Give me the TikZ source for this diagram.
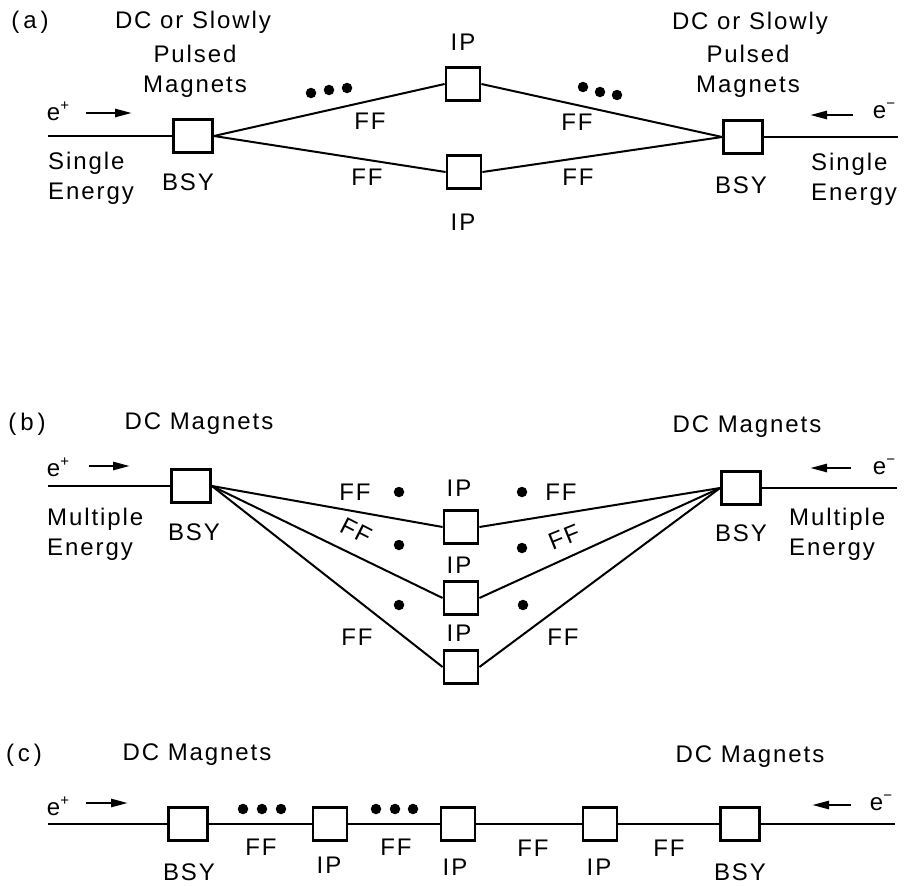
\documentclass[tikz,border=0pt]{standalone}
\usepackage{fontspec}
\setmainfont{Liberation Sans}[LetterSpace=8]
\usetikzlibrary{arrows.meta}
\tikzset{
  bsybox/.style={draw, line width=2.8pt, minimum width=39pt, minimum height=33pt, inner sep=0pt},
  ipbox/.style={draw, line width=2.8pt, minimum width=34pt, minimum height=33pt, inner sep=0pt},
  lbl/.style={font=\fontsize{24}{30}\selectfont, inner sep=0pt},
  beam/.style={line width=2pt},
  dirarrow/.style={line width=2.6pt, -{Triangle[length=17pt,width=8pt]}},
  blob/.style={circle, fill, minimum size=10.5pt, inner sep=0pt},
}
\newcommand{\epos}{e\raisebox{0.42em}{\fontsize{15}{15}\selectfont +}}
\newcommand{\eneg}{e\raisebox{0.42em}{\fontsize{15}{15}\selectfont \textminus}}
\begin{document}
\begin{tikzpicture}[x=1pt,y=-1pt]
\useasboundingbox (0,0) rectangle (905,886);
% ================= (a) =================
\node[lbl] (pa) at (30,22) {(\,a\,)};
\node[lbl] (dcA1) at (193,22) {DC or Slowly};
\node[lbl, align=center] (puA1) at (195,71) {Pulsed\\Magnets};
\node[lbl] (dcA2) at (750,23) {DC or Slowly};
\node[lbl, align=center] (puA2) at (748,71) {Pulsed\\Magnets};
\node[lbl] (epA) at (58,111) {\epos};
\coordinate (arA1s) at (86,113);
\coordinate (arA1e) at (132,113);
\draw[dirarrow] (arA1s) -- (arA1e);
\node[lbl] (emA) at (884,111) {\eneg};
\coordinate (arA2s) at (853,115);
\coordinate (arA2e) at (810,115);
\draw[dirarrow] (arA2s) -- (arA2e);
\coordinate (inA1) at (48,136);
\coordinate (inA2) at (898,137);
\node[bsybox] (bsyA1) at (193,136) {};
\node[bsybox] (bsyA2) at (743,137) {};
\node[ipbox] (ipA1) at (463,84) {};
\node[ipbox] (ipA2) at (464,172) {};
\draw[beam] (inA1) -- (bsyA1.west);
\draw[beam] (inA2) -- (bsyA2.east);
\draw[beam] (bsyA1.east) -- (ipA1.west);
\draw[beam] (bsyA1.east) -- (ipA2.west);
\draw[beam] (ipA1.east) -- (bsyA2.west);
\draw[beam] (ipA2.east) -- (bsyA2.west);
\node[lbl] (iplA1) at (463,42) {IP};
\node[lbl] (iplA2) at (463,222) {IP};
\node[lbl] (ffA1) at (370,121) {FF};
\node[lbl] (ffA2) at (367,177) {FF};
\node[lbl] (ffA3) at (577,122) {FF};
\node[lbl] (ffA4) at (578,177) {FF};
\node[blob] (dA1) at (311,93) {};
\node[blob] (dA2) at (329,90) {};
\node[blob] (dA3) at (347,88) {};
\node[blob] (dA4) at (583,87) {};
\node[blob] (dA5) at (600,92) {};
\node[blob] (dA6) at (617,95) {};
\node[lbl] (bslA1) at (188,182) {BSY};
\node[lbl] (bslA2) at (741,185) {BSY};
\node[lbl, align=left, anchor=west] (seA1) at (48,178) {Single\\Energy};
\node[lbl, align=left, anchor=west] (seA2) at (811,179) {Single\\Energy};
% ================= (b) =================
\node[lbl] (pb) at (27,424) {(\,b\,)};
\node[lbl] (dcB1) at (199,424) {DC Magnets};
\node[lbl] (dcB2) at (747,427) {DC Magnets};
\node[lbl] (epB) at (58,467) {\epos};
\coordinate (arB1s) at (89,466);
\coordinate (arB1e) at (130,466);
\draw[dirarrow] (arB1s) -- (arB1e);
\node[lbl] (emB) at (884,467) {\eneg};
\coordinate (arB2s) at (851,468);
\coordinate (arB2e) at (810,468);
\draw[dirarrow] (arB2s) -- (arB2e);
\coordinate (inB1) at (48,486);
\coordinate (inB2) at (897,488);
\node[bsybox] (bsyB1) at (191,486) {};
\node[bsybox] (bsyB2) at (741,488) {};
\node[ipbox] (ipB1) at (461,527) {};
\node[ipbox] (ipB2) at (461,598) {};
\node[ipbox] (ipB3) at (461,667) {};
\draw[beam] (inB1) -- (bsyB1.west);
\draw[beam] (inB2) -- (bsyB2.east);
\foreach \k in {1,2,3}{
  \draw[beam] (bsyB1.east) -- (ipB\k.west);
  \draw[beam] (ipB\k.east) -- (bsyB2.west);
}
\node[lbl] (iplB1) at (459,488) {IP};
\node[lbl] (iplB2) at (459,565) {IP};
\node[lbl] (iplB3) at (459,633) {IP};
\node[lbl] (ffB1) at (355,492) {FF};
\node[lbl] (ffB2) at (561,492) {FF};
\node[lbl, rotate=-27] (ffB3) at (356,531) {F\kern2ptF};
\node[lbl, rotate=22] (ffB4) at (564,537) {F\kern2ptF};
\node[lbl] (ffB5) at (357,637) {FF};
\node[lbl] (ffB6) at (563,637) {FF};
\node[blob] (dB1) at (399,492) {};
\node[blob] (dB2) at (522,492) {};
\node[blob] (dB3) at (399,545) {};
\node[blob] (dB4) at (522,548) {};
\node[blob] (dB5) at (399,605) {};
\node[blob] (dB6) at (523,605) {};
\node[lbl] (bslB1) at (194,532) {BSY};
\node[lbl] (bslB2) at (741,533) {BSY};
\node[lbl, align=left, anchor=west] (meB1) at (47,534) {Multiple\\Energy};
\node[lbl, align=left, anchor=west] (meB2) at (789,534) {Multiple\\Energy};
% ================= (c) =================
\node[lbl] (pc) at (24,755) {(\,c\,)};
\node[lbl] (dcC1) at (197,755) {DC Magnets};
\node[lbl] (dcC2) at (750,757) {DC Magnets};
\node[lbl] (epC) at (58,806) {\epos};
\coordinate (arC1s) at (86,803);
\coordinate (arC1e) at (128,803);
\draw[dirarrow] (arC1s) -- (arC1e);
\node[lbl] (emC) at (881,803) {\eneg};
\coordinate (arC2s) at (851,805);
\coordinate (arC2e) at (812,805);
\draw[dirarrow] (arC2s) -- (arC2e);
\coordinate (inC1) at (48,824);
\coordinate (inC2) at (895,824);
\node[bsybox] (bsyC1) at (188,824) {};
\node[ipbox] (ipC1) at (330,824) {};
\node[ipbox] (ipC2) at (458,824) {};
\node[ipbox] (ipC3) at (600,824) {};
\node[bsybox] (bsyC2) at (740,824) {};
\draw[beam] (inC1) -- (bsyC1.west);
\draw[beam] (bsyC1.east) -- (ipC1.west);
\draw[beam] (ipC1.east) -- (ipC2.west);
\draw[beam] (ipC2.east) -- (ipC3.west);
\draw[beam] (ipC3.east) -- (bsyC2.west);
\draw[beam] (bsyC2.east) -- (inC2);
\node[blob] (dC1) at (243,809) {};
\node[blob] (dC2) at (262,809) {};
\node[blob] (dC3) at (281,809) {};
\node[blob] (dC4) at (376,809) {};
\node[blob] (dC5) at (395,809) {};
\node[blob] (dC6) at (413,809) {};
\node[lbl] (ffC1) at (261,847) {FF};
\node[lbl] (ffC2) at (396,847) {FF};
\node[lbl] (ffC3) at (533,848) {FF};
\node[lbl] (ffC4) at (669,848) {FF};
\node[lbl] (iplC1) at (329,865) {IP};
\node[lbl] (iplC2) at (455,867) {IP};
\node[lbl] (iplC3) at (599,867) {IP};
\node[lbl] (bslC1) at (189,872) {BSY};
\node[lbl] (bslC2) at (740,872) {BSY};
\end{tikzpicture}
\end{document}
